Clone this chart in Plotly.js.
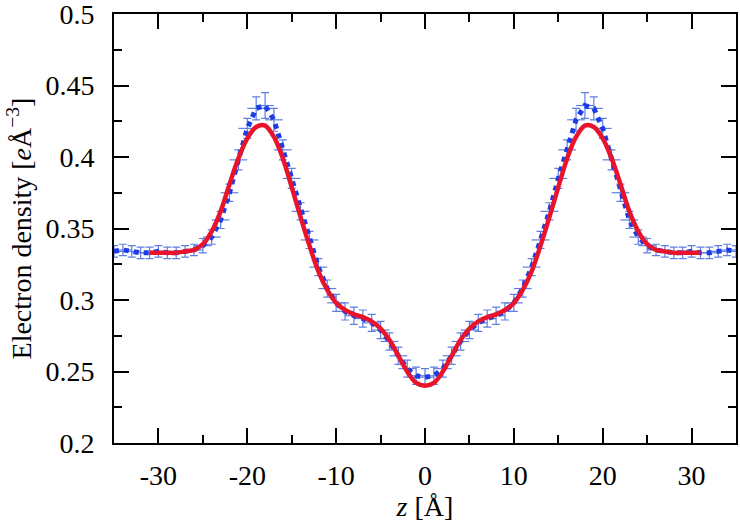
<!DOCTYPE html>
<html>
<head>
<meta charset="utf-8">
<script src="https://cdn.plot.ly/plotly-3.0.1.min.js"></script>
<style>
  html, body { margin: 0; padding: 0; background: #fff; }
  #chart { width: 740px; height: 524px; }
</style>
</head>
<body>
<div id="chart"></div>
<script>
// simulation points (blue, with error bars)
const zSim = [-35, -34, -33, -32, -31, -30, -29, -28, -27, -26, -25, -24, -23, -22, -21, -20, -19, -18,
  -17, -16, -15, -14, -13, -12, -11, -10, -9, -8, -7, -6, -5, -4, -3, -2, -1, 0,
  1, 2, 3, 4, 5, 6, 7, 8, 9, 10, 11, 12, 13, 14, 15, 16, 17, 18,
  19, 20, 21, 22, 23, 24, 25, 26, 27, 28, 29, 30, 31, 32, 33, 34, 35];
const rhoSim = [0.334, 0.335, 0.334, 0.333, 0.333, 0.334, 0.333, 0.333, 0.334, 0.335, 0.338, 0.344, 0.356, 0.375, 0.398, 0.420, 0.434, 0.436,
  0.426, 0.405, 0.385, 0.362, 0.342, 0.323, 0.308, 0.298, 0.292, 0.289, 0.287, 0.284, 0.279, 0.271, 0.261, 0.252, 0.247, 0.246,
  0.247, 0.252, 0.261, 0.271, 0.279, 0.284, 0.287, 0.289, 0.292, 0.298, 0.308, 0.323, 0.342, 0.362, 0.385, 0.405, 0.426, 0.436,
  0.434, 0.420, 0.398, 0.375, 0.356, 0.344, 0.338, 0.335, 0.334, 0.333, 0.333, 0.334, 0.333, 0.333, 0.334, 0.335, 0.334];
const errSim = [0.004, 0.004, 0.004, 0.004, 0.004, 0.004, 0.004, 0.004, 0.004, 0.004, 0.005, 0.005, 0.006, 0.006, 0.007, 0.007, 0.008, 0.009,
  0.008, 0.007, 0.007, 0.006, 0.006, 0.006, 0.006, 0.006, 0.006, 0.006, 0.006, 0.006, 0.006, 0.006, 0.006, 0.006, 0.006, 0.006,
  0.006, 0.006, 0.006, 0.006, 0.006, 0.006, 0.006, 0.006, 0.006, 0.006, 0.006, 0.006, 0.006, 0.006, 0.007, 0.007, 0.008, 0.009,
  0.008, 0.007, 0.007, 0.006, 0.006, 0.005, 0.005, 0.004, 0.004, 0.004, 0.004, 0.004, 0.004, 0.004, 0.004, 0.004, 0.004];
const zErr = 1.0;

// fitted profile (red)
const zFit = [-31, -30, -29, -28, -27, -26, -25, -24, -23, -22, -21, -20, -19, -18, -17, -16, -15, -14, -13, -12, -11, -10,
  -9, -8, -7, -6, -5, -4, -3, -2, -1, 0, 1, 2, 3, 4, 5, 6, 7, 8, 9,
  10, 11, 12, 13, 14, 15, 16, 17, 18, 19, 20, 21, 22, 23, 24, 25, 26, 27, 28, 29, 30, 31];
const rhoFit = [0.333, 0.333, 0.333, 0.333, 0.334, 0.335, 0.339, 0.348, 0.362, 0.381, 0.399, 0.413, 0.421, 0.422, 0.414, 0.399, 0.379, 0.358, 0.338, 0.320, 0.307, 0.298,
  0.293, 0.290, 0.288, 0.285, 0.280, 0.272, 0.261, 0.250, 0.242, 0.240, 0.242, 0.250, 0.261, 0.272, 0.280, 0.285, 0.288, 0.290, 0.293,
  0.298, 0.307, 0.320, 0.338, 0.358, 0.379, 0.399, 0.414, 0.422, 0.421, 0.413, 0.399, 0.381, 0.362, 0.348, 0.339, 0.335, 0.334, 0.333, 0.333, 0.333, 0.333];

const xTicks = [-30, -20, -10, 0, 10, 20, 30];
const xTickText = ["-30", "-20", "-10", "0", "10", "20", "30"];
const yTicks = [0.2, 0.25, 0.3, 0.35, 0.4, 0.45, 0.5];
const yTickText = ["0.2", "0.25", "0.3", "0.35", "0.4", "0.45", "0.5"];

const font = "Liberation Serif, DejaVu Serif, serif";

const sim = {
  x: zSim,
  y: rhoSim,
  type: "scatter",
  mode: "lines",
  line: { color: "#1c3de6", width: 5, dash: "dot" },
  error_y: { type: "data", array: errSim, visible: true, color: "#5f7fe0", thickness: 1.2, width: 4 },
  error_x: { type: "constant", value: zErr, visible: true, color: "#5f7fe0", thickness: 1.2, width: 0 },
  hoverinfo: "x+y"
};

const fit = {
  x: zFit,
  y: rhoFit,
  type: "scatter",
  mode: "lines",
  line: { color: "#e8142c", width: 4.5, shape: "spline", smoothing: 1 },
  hoverinfo: "x+y"
};

const axisCommon = {
  showline: true,
  linecolor: "#000",
  linewidth: 2,
  mirror: "ticks",
  ticks: "inside",
  ticklen: 15,
  tickwidth: 2,
  tickcolor: "#000",
  showgrid: false,
  zeroline: false,
  ticklabeloverflow: "allow",
  tickfont: { family: font, size: 28, color: "#000" }
};

const layout = {
  width: 740,
  height: 524,
  margin: { l: 114, r: 4, t: 14, b: 81 },
  paper_bgcolor: "#fff",
  plot_bgcolor: "#fff",
  showlegend: false,
  xaxis: Object.assign({}, axisCommon, {
    range: [-35, 35],
    tickmode: "array",
    tickvals: xTicks,
    ticktext: xTickText,
    ticklabelstandoff: 6,
    minor: { dtick: 5, tick0: 0, ticks: "inside", ticklen: 8, tickwidth: 2, tickcolor: "#000", showgrid: false },
    title: { text: "<i>z</i> [Å]", font: { family: font, size: 28, color: "#000" }, standoff: 2 }
  }),
  yaxis: Object.assign({}, axisCommon, {
    range: [0.2, 0.5],
    tickmode: "array",
    tickvals: yTicks,
    ticktext: yTickText,
    ticklabelstandoff: 12,
    minor: { dtick: 0.025, tick0: 0.2, ticks: "inside", ticklen: 8, tickwidth: 2, tickcolor: "#000", showgrid: false },
    title: { text: "Electron density [<i>e</i>Å<sup>−3</sup>]", font: { family: font, size: 28, color: "#000" }, standoff: 6 }
  })
};

Plotly.newPlot("chart", [sim, fit], layout, { displayModeBar: false, staticPlot: true });
</script>
</body>
</html>
